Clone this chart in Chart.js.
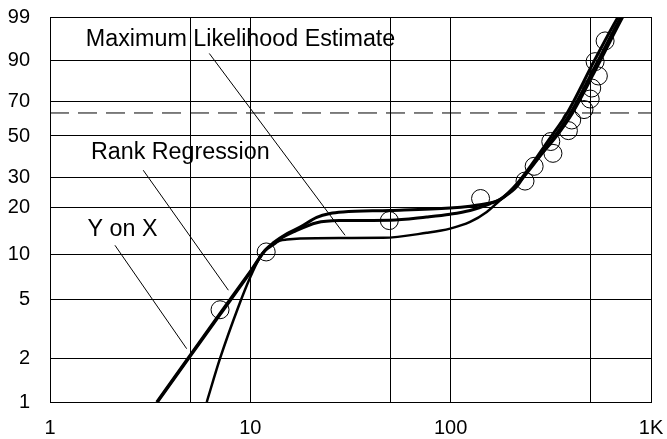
<!DOCTYPE html>
<html>
<head>
<meta charset="utf-8">
<script src="https://cdn.jsdelivr.net/npm/chart.js@4.4.1/dist/chart.umd.min.js"></script>
<style>
  html, body { margin: 0; padding: 0; background: #ffffff; }
  #wrap { width: 667px; height: 439px; }
</style>
</head>
<body>
<div id="wrap"><canvas id="c" width="667" height="439"></canvas></div>
<script>
// ---- axis ticks ----
const xGridValues = [1, 5, 10, 50, 100, 500, 1000];
const xLabelValues = [1, 10, 100, 1000];
const xLabelTexts = ['1', '10', '100', '1K'];
const yTickPercents = [1, 2, 5, 10, 20, 30, 50, 70, 90, 99];
const refLinePercent = 63.2;

// ---- data points (median ranks) ----
const pointsX = [7.06, 12.0, 49.4, 141, 235, 261, 324, 316, 387, 402, 463, 497, 506, 546, 526, 590];
const pointsF = [4.27, 10.37, 16.5, 22.6, 28.7, 34.8, 40.9, 47.0, 53.0, 59.1, 65.2, 71.3, 77.4, 83.5, 89.6, 95.7];

// ---- fitted curves ----
const yxX = [3.41, 4.81, 7.06, 10.0, 11.85, 13.03, 15.2, 17.71, 21.45, 25.0, 29.0, 49.8, 99.3, 125, 150, 176, 216, 316, 381, 522, 685, 745];
const yxF = [1.0, 1.94, 4.03, 7.73, 10.65, 11.9, 13.6, 15.0, 17.3, 18.3, 18.7, 19.1, 19.8, 20.3, 21.0, 22.3, 28.0, 49.4, 63.0, 90.0, 99.0, 99.6];

const rrX = [3.44, 4.84, 7.1, 10.05, 11.85, 13.03, 14.5, 16.39, 21.45, 28, 49.8, 75.9, 99.3, 125, 157, 180, 222, 328, 396, 545, 708, 765];
const rrF = [1.0, 1.93, 4.0, 7.7, 10.6, 11.6, 12.9, 13.97, 16.0, 16.5, 16.6, 17.4, 18.1, 19.1, 21.0, 22.6, 28.7, 49.4, 63.0, 90.0, 99.0, 99.6];

const mleX = [6.06, 7.06, 8.71, 10.0, 11.18, 11.85, 12.8, 14.1, 15.19, 17.71, 28, 46, 75.9, 99.3, 125, 151.4, 176.5, 213.8, 244, 336, 406, 560, 725, 780];
const mleF = [1.0, 1.99, 4.46, 7.09, 9.61, 10.63, 11.6, 12.3, 12.48, 12.67, 12.78, 12.8, 13.8, 14.68, 16.17, 18.68, 22.05, 26.5, 33.1, 49.4, 63.0, 90.0, 99.0, 99.6];

// ---- annotation labels and leader lines ----
const annTexts = ['Maximum Likelihood Estimate', 'Rank Regression', 'Y on X'];
const annX = [1.51, 1.60, 1.54];
const annF = [94.44, 38.36, 13.1];
const mleLeadX = [6.24, 29.7], mleLeadF = [92.4, 13.3];
const rrLeadX = [2.92, 7.77], rrLeadF = [33.1, 5.78];
const yxLeadX = [2.11, 4.81], yxLeadF = [11.46, 2.32];

// Weibull probability transform (scale mapping)
const wb = p => Math.log(-Math.log(1 - p / 100));
const pts = (xs, fs) => xs.map((x, i) => ({ x: x, y: wb(fs[i]) }));

const curveStyle = {
  showLine: true, borderColor: '#000', borderWidth: 3, pointRadius: 0,
  cubicInterpolationMode: 'monotone', fill: false
};
const leadStyle = { showLine: true, borderColor: '#000', borderWidth: 1, pointRadius: 0, fill: false };

const bgPlugin = {
  id: 'bg',
  beforeDraw(chart) {
    const ctx = chart.ctx;
    ctx.save();
    ctx.fillStyle = '#ffffff';
    ctx.fillRect(0, 0, chart.width, chart.height);
    ctx.restore();
  }
};

const annPlugin = {
  id: 'ann',
  afterDatasetsDraw(chart) {
    const ctx = chart.ctx;
    const xs = chart.scales.x, ys = chart.scales.y;
    ctx.save();
    ctx.fillStyle = '#000';
    ctx.font = '23.3px "Liberation Sans", Arial, sans-serif';
    ctx.textAlign = 'left';
    ctx.textBaseline = 'alphabetic';
    annTexts.forEach((t, i) => {
      ctx.fillText(t, xs.getPixelForValue(annX[i]), ys.getPixelForValue(wb(annF[i])));
    });
    ctx.restore();
  }
};

const zeroPad = s => { s.paddingTop = 0; s.paddingBottom = 0; s.paddingLeft = 0; s.paddingRight = 0; };

new Chart(document.getElementById('c'), {
  type: 'scatter',
  data: {
    datasets: [
      { data: [{ x: 1, y: wb(refLinePercent) }, { x: 1000, y: wb(refLinePercent) }],
        showLine: true, borderColor: '#000', borderWidth: 1, borderDash: [19, 9], pointRadius: 0 },
      Object.assign({ data: pts(yxX, yxF) }, curveStyle),
      Object.assign({ data: pts(rrX, rrF) }, curveStyle),
      Object.assign({ data: pts(mleX, mleF) }, curveStyle, { borderWidth: 2.5 }),
      Object.assign({ data: pts(mleLeadX, mleLeadF) }, leadStyle),
      Object.assign({ data: pts(rrLeadX, rrLeadF) }, leadStyle),
      Object.assign({ data: pts(yxLeadX, yxLeadF) }, leadStyle),
      { data: pts(pointsX, pointsF), showLine: false, pointRadius: 9, pointHoverRadius: 9,
        pointStyle: 'circle', borderColor: '#000', borderWidth: 1, backgroundColor: 'rgba(0,0,0,0)' }
    ]
  },
  options: {
    responsive: false,
    animation: false,
    events: [],
    layout: { padding: { top: 17, right: 16, left: 0, bottom: 0 } },
    plugins: { legend: { display: false }, tooltip: { enabled: false } },
    scales: {
      x: {
        type: 'logarithmic',
        min: 1, max: 1000,
        afterBuildTicks: s => { s.ticks = xGridValues.map(v => ({ value: v })); },
        afterFit: s => { s.height = 37; zeroPad(s); },
        ticks: {
          autoSkip: false, maxRotation: 0, padding: 14, color: '#000',
          font: { family: '"Liberation Sans", Arial, sans-serif', size: 20 },
          callback: v => { const i = xLabelValues.indexOf(v); return i >= 0 ? xLabelTexts[i] : ''; }
        },
        grid: { color: '#000', lineWidth: 1, drawTicks: false },
        border: { color: '#000', width: 1 }
      },
      y: {
        type: 'linear',
        min: wb(yTickPercents[0]), max: wb(yTickPercents[yTickPercents.length - 1]),
        afterBuildTicks: s => { s.ticks = yTickPercents.map(p => ({ value: wb(p) })); },
        afterFit: s => { s.width = 50; zeroPad(s); },
        ticks: {
          autoSkip: false, padding: 20, color: '#000',
          font: { family: '"Liberation Sans", Arial, sans-serif', size: 20 },
          callback: function (v, i) { return String(yTickPercents[i]); }
        },
        grid: { color: '#000', lineWidth: 1, drawTicks: false },
        border: { color: '#000', width: 1 }
      }
    }
  },
  plugins: [bgPlugin, annPlugin]
});
</script>
</body>
</html>
